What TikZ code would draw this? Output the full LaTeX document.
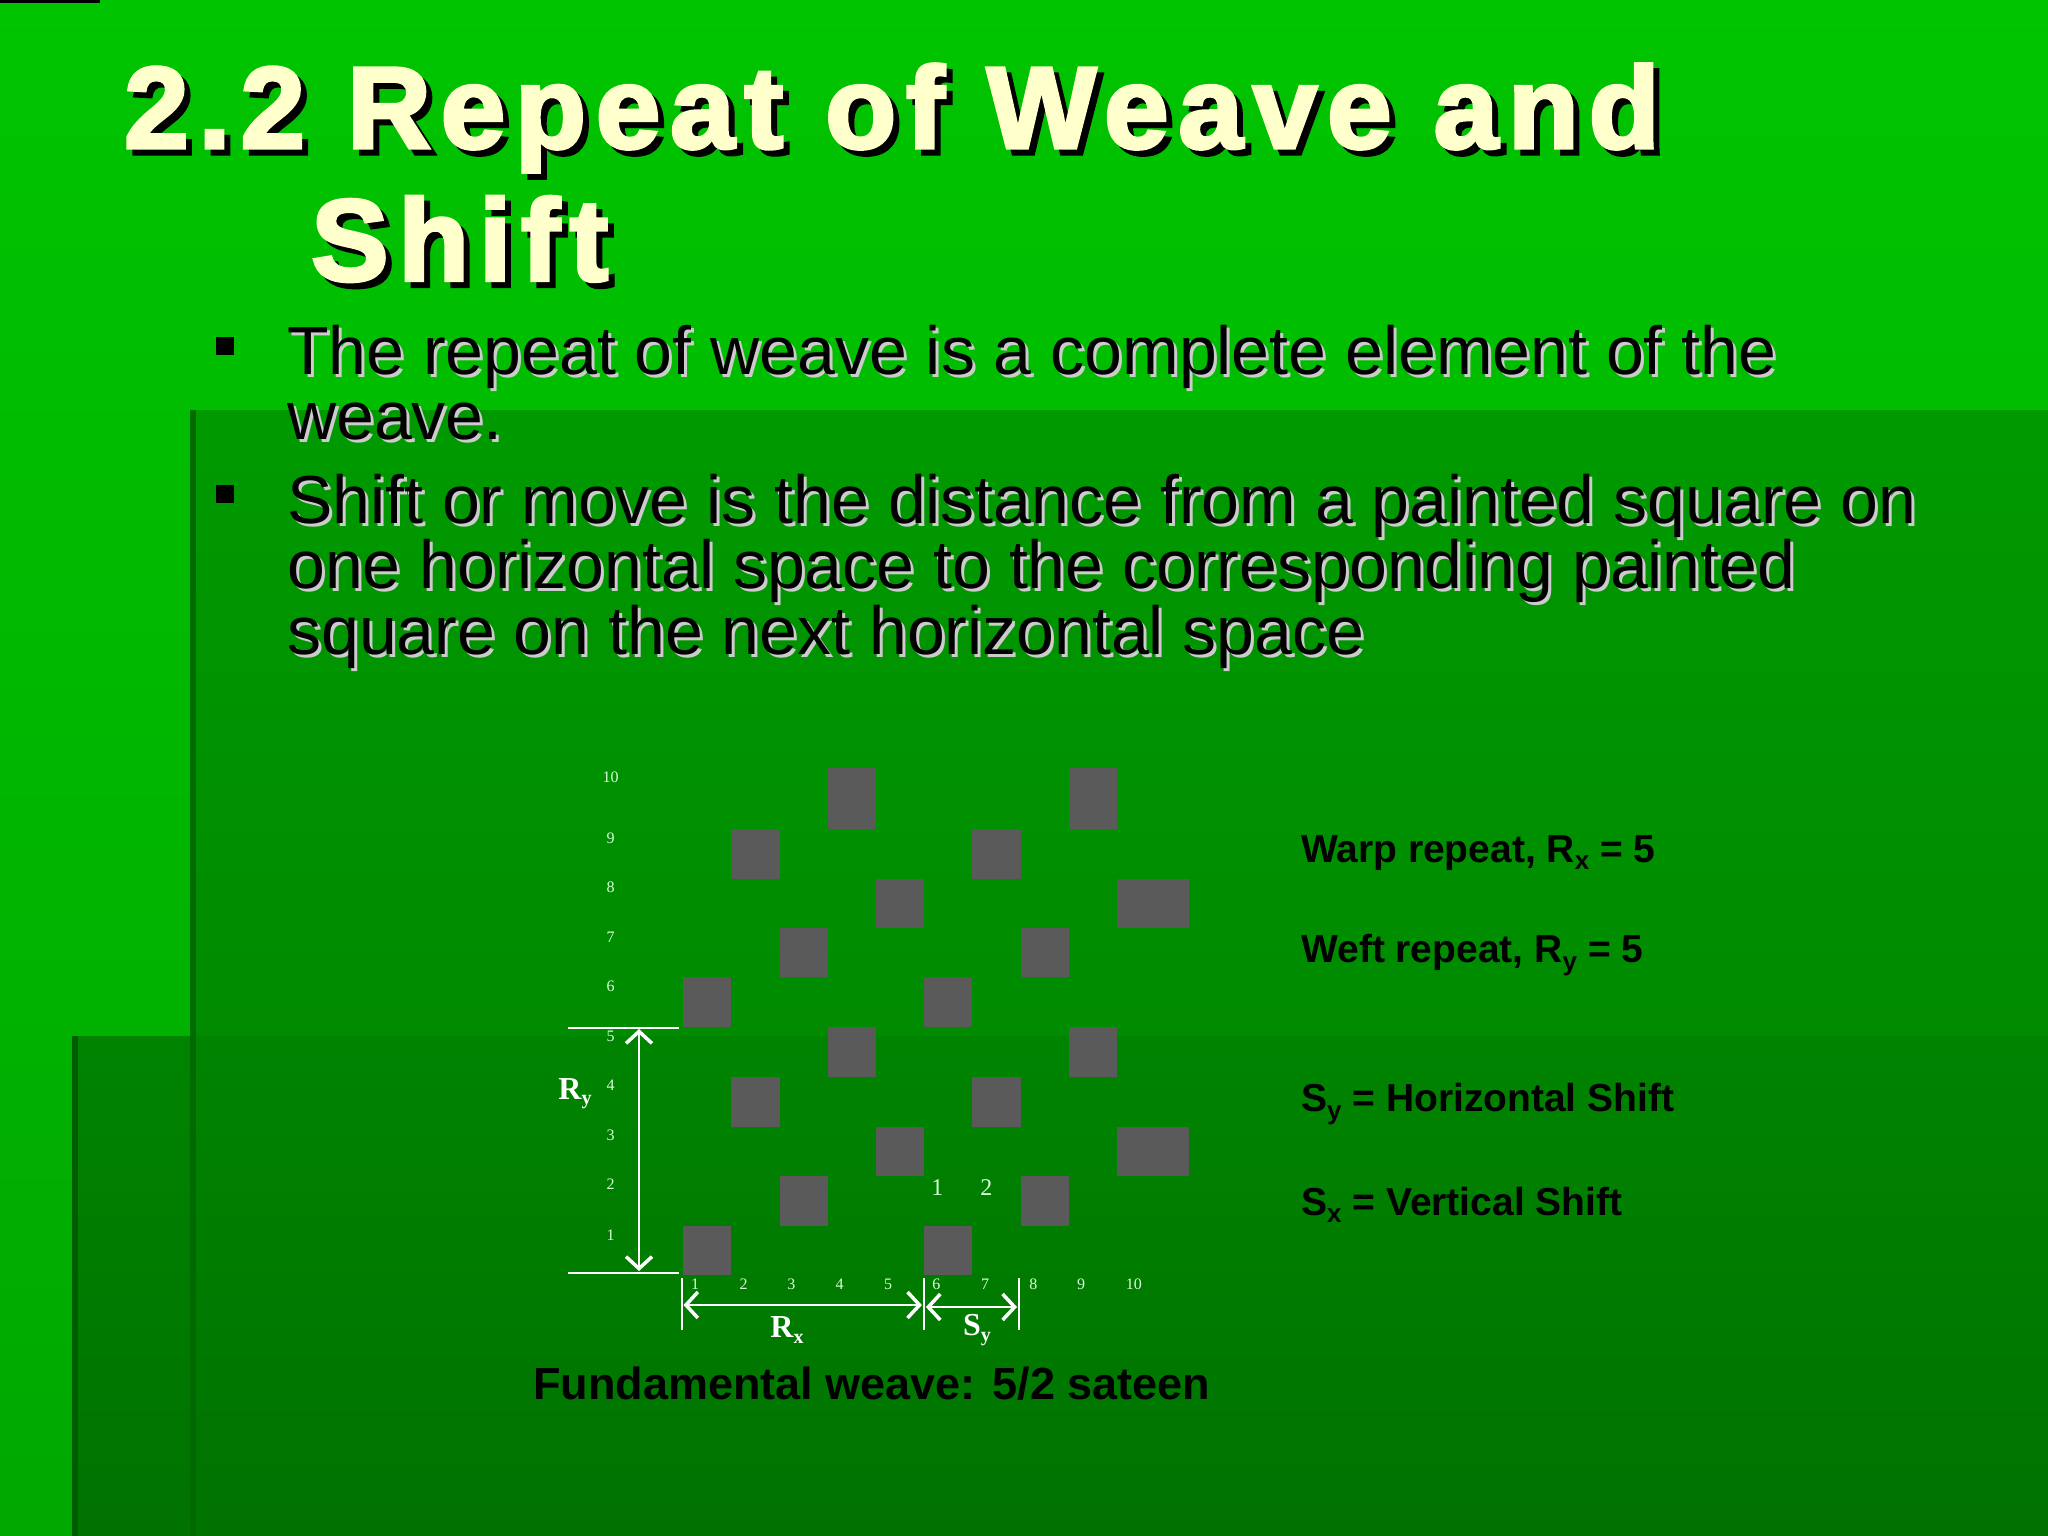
\documentclass[tikz,border=0pt]{standalone}
\usepackage{fontspec}
\setmainfont{Liberation Sans}
\newfontfamily\serifx{Liberation Serif}
\newfontfamily\heavy[FakeBold=3,LetterSpace=8.5]{Liberation Sans Bold}
\usetikzlibrary{arrows.meta}
\definecolor{gtop}{HTML}{00C400}
\definecolor{gmid}{HTML}{00A800}
\definecolor{pa}{HTML}{009A00}
\definecolor{pb}{HTML}{007E00}
\definecolor{qa}{HTML}{008400}
\definecolor{qb}{HTML}{007200}
\definecolor{sq}{HTML}{5A5A5A}
\definecolor{titlec}{HTML}{FFFFCC}
\tikzset{
  ttl/.style={anchor=west,inner sep=0,font=\heavy\fontsize{116}{116}\selectfont},
  body/.style={anchor=west,inner sep=0,font=\fontsize{68}{68}\selectfont},
  lab/.style={anchor=west,inner sep=0,font=\fontsize{39}{39}\bfseries},
  num/.style={inner sep=0,text=white!85!green,font=\serifx\fontsize{16}{16}\selectfont},
  big/.style={inner sep=0,text=white,font=\serifx\fontsize{32}{32}\bfseries},
  wl/.style={white,line width=2pt},
  ar/.style={white,line width=2.2pt,{Straight Barb[length=12pt,width=26pt,line width=3.5pt]}-{Straight Barb[length=12pt,width=26pt,line width=3.5pt]}},
}
\begin{document}
\begin{tikzpicture}[x=1pt,y=-1pt]
\useasboundingbox (0,0) rectangle (2048,1536);
\shade[top color=gtop,bottom color=gmid] (0,0) rectangle (2048,1536);
\shade[top color=pa,bottom color=pb] (190,410) rectangle (2048,1536);
\fill[black!30!pa] (190,410) rectangle (196,1536);
\shade[top color=qa,bottom color=qb] (72,1036) rectangle (2048,1536);
\fill[black!30!qa] (72,1036) rectangle (78,1536);
\fill[black!20!qa] (190,1036) rectangle (196,1536);
\fill[black] (0,0) rectangle (100,3);
% title
\node[ttl,text=black] at (130,124) {2.2 Repeat of Weave and};
\node[ttl,text=titlec] (t1) at (124,118) {2.2 Repeat of Weave and};
\node[ttl,text=black] at (317,245) {Shift};
\node[ttl,text=titlec] (t2) at (311,239) {Shift};
% bullets
\fill[black] (216,337) rectangle (234,355);
\fill[black] (216,485) rectangle (234,503);
\foreach \t/\y [count=\i] in {{The repeat of weave is a complete element of the}/357,{weave.}/422,{Shift or move is the distance from a painted square on}/506,{one horizontal space to the corresponding painted}/571,{square on the next horizontal space}/637}{
  \node[body,text=black!20] at (290,\y+3) {\t};
  \node[body,text=black] (b\i) at (287,\y) {\t};
}
% grid squares
\def\xs{{682.9,731,779.7,828,875.7,923.9,972.1,1020.8,1069,1117.2,1188.6}}
\def\ys{{1274.8,1226.2,1175.6,1126.7,1076.5,1027.1,977.4,928,878.6,829.2,768}}
\foreach \r/\ca/\cb in {1/1/6,2/3/8,3/5/10,4/2/7,5/4/9,6/1/6,7/3/8,8/5/10,9/2/7,10/4/9}{
  \foreach \c in {\ca,\cb}{
    \pgfmathsetmacro\xa{\xs[\c-1]}\pgfmathsetmacro\xb{\xs[\c]}
    \pgfmathsetmacro\ya{\ys[\r-1]}\pgfmathsetmacro\yb{\ys[\r]}
    \fill[sq] (\xa,\ya) rectangle (\xb,\yb);
  }
}
% row numbers
\foreach \r in {1,...,10}{
  \pgfmathsetmacro\yb{\ys[\r]}
  \node[num] (r\r) at (610.5,{\yb+9}) {\r};
}
\foreach \x [count=\c] in {695,743.6,791.3,839.6,888.2,936.4,985,1033.3,1081,1133.8}{
  \node[num] (c\c) at (\x,1284) {\c};
}
\node[num,font=\serifx\fontsize{24}{24}\selectfont] (one) at (937.3,1188) {1};
\node[num,font=\serifx\fontsize{24}{24}\selectfont] (two) at (986.4,1188) {2};
% Ry dimension
\coordinate (ht) at (567.7,1027.5);
\coordinate (htE) at (679.3,1027.5);
\coordinate (hb) at (567.7,1273);
\coordinate (hbE) at (679.3,1273);
\draw[wl] (ht) -- (htE);
\draw[wl] (hb) -- (hbE);
\coordinate (ryt) at (639,1029);
\coordinate (ryb) at (639,1271);
\draw[ar] (ryt) -- (ryb);
\node[big] (ry) at (575,1094) {R\raisebox{-0.35ex}{\fontsize{20}{20}\selectfont y}};
% Rx / Sy
\coordinate (v1t) at (681.5,1278);\coordinate (v1b) at (681.5,1330);
\coordinate (v2t) at (923.9,1278);\coordinate (v2b) at (923.9,1330);
\coordinate (v3t) at (1019,1278);\coordinate (v3b) at (1019,1330);
\draw[wl] (v1t) -- (v1b); \draw[wl] (v2t) -- (v2b); \draw[wl] (v3t) -- (v3b);
\coordinate (rxa) at (683.5,1305);\coordinate (rxb) at (921.9,1305);
\coordinate (sya) at (925.9,1307);\coordinate (syb) at (1017,1307);
\draw[ar] (rxa) -- (rxb);
\draw[ar] (sya) -- (syb);
\node[big] (rx) at (787,1330) {R\raisebox{-0.35ex}{\fontsize{20}{20}\selectfont x}};
\node[big] (sy) at (977,1330) {S\raisebox{-0.35ex}{\fontsize{20}{20}\selectfont y}};
% right labels
\node[lab] (l1) at (1301,853) {Warp repeat, R\raisebox{-0.35ex}{\fontsize{26}{26}\selectfont x} = 5};
\node[lab] (l2) at (1301,955) {Weft repeat, R\raisebox{-0.35ex}{\fontsize{26}{26}\selectfont y} = 5};
\node[lab] (l3) at (1301,1104) {S\raisebox{-0.35ex}{\fontsize{26}{26}\selectfont y} = Horizontal Shift};
\node[lab] (l4) at (1301,1205) {S\raisebox{-0.35ex}{\fontsize{26}{26}\selectfont x} = Vertical Shift};
\node[lab,font=\fontsize{45}{45}\bfseries] (cap) at (533,1384) {Fundamental weave: 5/2 sateen};
\end{tikzpicture}
\end{document}
